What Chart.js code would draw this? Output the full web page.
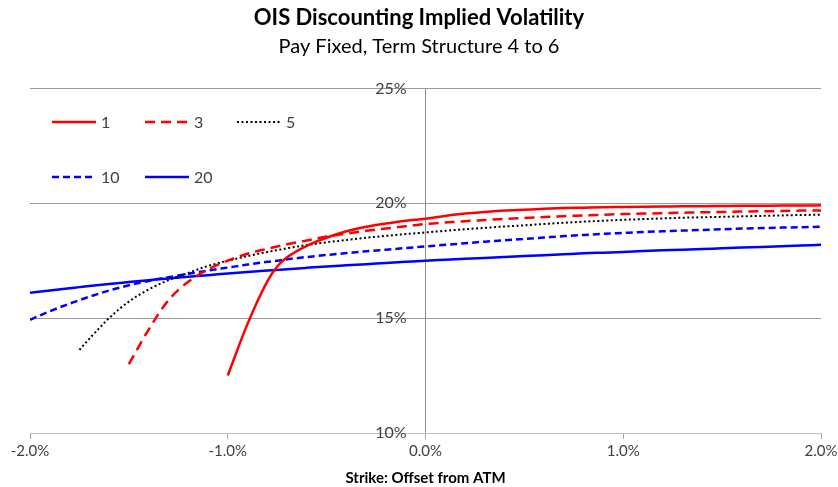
<!DOCTYPE html>
<html>
<head>
<meta charset="utf-8">
<script src="https://cdn.jsdelivr.net/npm/chart.js@4/dist/chart.umd.min.js"></script>
<style>
  html, body { margin: 0; padding: 0; background: #fff; }
  #wrap { width: 838px; height: 487px; }
</style>
</head>
<body>
<div id="wrap"><canvas id="volChart"></canvas></div>
<script>
// Strike offset from ATM (%)
const strikes = [-2.0, -1.9, -1.8, -1.75, -1.7, -1.6, -1.5, -1.4, -1.3, -1.2, -1.1, -1.0, -0.9, -0.8, -0.75,
  -0.7, -0.6, -0.5, -0.4, -0.3, -0.2, -0.1, 0, 0.1, 0.2, 0.3, 0.4, 0.5, 0.6, 0.7, 0.8, 0.9,
  1.0, 1.1, 1.2, 1.3, 1.4, 1.5, 1.6, 1.7, 1.8, 1.9, 2.0];

// implied vol (%) per term, null where the curve isn't drawn
const vol1 = [null, null, null, null, null, null, null, null, null, null, null, 12.5, 14.75, 16.6, 17.25,
  17.65, 18.15, 18.5, 18.78, 18.98, 19.12, 19.24, 19.33, 19.45, 19.55, 19.62, 19.68, 19.72, 19.76, 19.79, 19.81, 19.83,
  19.84, 19.85, 19.86, 19.87, 19.87, 19.88, 19.89, 19.89, 19.9, 19.9, 19.91];
const vol3 = [null, null, null, null, null, null, 13.0, 14.5, 15.78, 16.58, 17.12, 17.5, 17.8, 18.02, 18.12,
  18.22, 18.38, 18.55, 18.68, 18.8, 18.9, 19.0, 19.1, 19.16, 19.22, 19.27, 19.32, 19.36, 19.4, 19.44, 19.47, 19.5,
  19.53, 19.55, 19.57, 19.59, 19.61, 19.62, 19.64, 19.65, 19.66, 19.68, 19.69];
const vol5 = [null, null, null, 13.62, 14.1, 15.0, 15.72, 16.25, 16.65, 16.97, 17.27, 17.5, 17.7, 17.88, 17.96,
  18.04, 18.18, 18.3, 18.4, 18.5, 18.58, 18.66, 18.73, 18.8, 18.87, 18.93, 18.99, 19.04, 19.1, 19.15, 19.2, 19.24,
  19.28, 19.31, 19.34, 19.37, 19.39, 19.41, 19.43, 19.45, 19.47, 19.49, 19.5];
const vol10 = [14.93, 15.3, 15.63, 15.78, 15.93, 16.2, 16.43, 16.62, 16.78, 16.93, 17.07, 17.2, 17.33, 17.45, 17.5,
  17.56, 17.66, 17.75, 17.83, 17.91, 17.98, 18.05, 18.12, 18.19, 18.26, 18.33, 18.39, 18.45, 18.51, 18.57, 18.62, 18.67,
  18.71, 18.75, 18.78, 18.81, 18.84, 18.87, 18.9, 18.92, 18.94, 18.96, 18.98];
const vol20 = [16.1, 16.2, 16.3, 16.35, 16.4, 16.49, 16.57, 16.65, 16.73, 16.8, 16.87, 16.94, 17.01, 17.07, 17.1,
  17.13, 17.19, 17.25, 17.3, 17.35, 17.4, 17.45, 17.5, 17.54, 17.58, 17.62, 17.66, 17.7, 17.74, 17.78, 17.82, 17.85,
  17.88, 17.92, 17.95, 17.98, 18.01, 18.04, 18.07, 18.1, 18.13, 18.16, 18.19];

const termLabels = ["1", "3", "5", "10", "20"];
const yTicks = [10, 15, 20, 25];
const xTicks = [-2, -1, 0, 1, 2];

const FONT = "Lato, 'Open Sans', sans-serif";

function toPoints(vals) {
  return strikes.map((s, i) => ({ x: s, y: vals[i] }));
}

function makeSet(label, vals, color, dash, width) {
  return {
    label: label,
    data: toPoints(vals),
    borderColor: color,
    backgroundColor: color,
    borderWidth: width,
    borderDash: dash,
    pointRadius: 0,
    fill: false,
    spanGaps: true,
    cubicInterpolationMode: "monotone"
  };
}

// legend drawn inside the plot, 3 per row like the original
const insideLegend = {
  id: "insideLegend",
  afterDraw(chart) {
    const ctx = chart.ctx;
    const slots = [[52, 122], [145, 122], [237, 122], [52, 177], [145, 177]];
    chart.data.datasets.forEach((ds, i) => {
      const [x, y] = slots[i];
      ctx.save();
      ctx.strokeStyle = ds.borderColor;
      ctx.lineWidth = ds.borderWidth;
      ctx.setLineDash(ds.borderDash || []);
      ctx.beginPath();
      ctx.moveTo(x, y);
      ctx.lineTo(x + 44, y);
      ctx.stroke();
      ctx.setLineDash([]);
      ctx.fillStyle = "#404040";
      ctx.font = "16px " + FONT;
      ctx.textBaseline = "middle";
      ctx.fillText(ds.label, x + 49, y + 1);
      ctx.restore();
    });
  }
};

const ctx = document.getElementById("volChart").getContext("2d");
const chart = new Chart(ctx, {
  type: "line",
  data: {
    datasets: [
      makeSet(termLabels[0], vol1, "#ff0000", [], 2.5),
      makeSet(termLabels[1], vol3, "#ff0000", [10, 6], 2.5),
      makeSet(termLabels[2], vol5, "#000000", [2, 2.5], 2),
      makeSet(termLabels[3], vol10, "#0000ff", [7, 4], 2.5),
      makeSet(termLabels[4], vol20, "#0000ff", [], 2.5)
    ]
  },
  options: {
    responsive: true,
    maintainAspectRatio: false,
    animation: false,
    layout: { padding: 0 },
    plugins: {
      legend: { display: false },
      tooltip: { enabled: false },
      title: {
        display: true,
        text: "OIS Discounting Implied Volatility",
        color: "#000",
        font: { family: FONT, size: 22, weight: "bold" },
        padding: { top: 5, bottom: 3 }
      },
      subtitle: {
        display: true,
        text: "Pay Fixed, Term Structure 4 to 6",
        color: "#000",
        font: { family: FONT, size: 20 },
        padding: { bottom: 30 }
      }
    },
    scales: {
      x: {
        type: "linear",
        min: -2,
        max: 2,
        afterBuildTicks: axis => { axis.ticks = xTicks.map(v => ({ value: v })); },
        afterFit: axis => { axis.paddingLeft = 30; axis.paddingRight = 17; },
        // only the 0% line is drawn across the plot (it is the vertical axis)
        grid: {
          drawOnChartArea: true,
          drawTicks: true,
          tickLength: 6,
          color: c => c.tick && c.tick.value === 0 ? "#8c8c8c" : "rgba(0,0,0,0)",
          tickColor: "#a6a6a6"
        },
        border: { color: "#c0c0c0", width: 1 },
        ticks: {
          color: "#404040",
          font: { family: FONT, size: 15 },
          padding: 3,
          maxRotation: 0,
          callback: v => v.toFixed(1) + "%"
        },
        title: {
          display: true,
          text: "Strike: Offset from ATM",
          color: "#000",
          font: { family: FONT, size: 15, weight: "bold" },
          padding: { top: 6, bottom: 0 }
        }
      },
      y: {
        // sits just left of 0% so the labels clear the vertical axis line
        position: { x: -0.096 },
        min: 10,
        max: 25,
        afterBuildTicks: axis => { axis.ticks = yTicks.map(v => ({ value: v })); },
        grid: { color: "#9a9a9a", drawTicks: false },
        border: { display: false },
        ticks: {
          color: "#404040",
          font: { family: FONT, size: 16 },
          callback: v => v + "%"
        }
      }
    }
  },
  plugins: [insideLegend]
});
</script>
</body>
</html>
